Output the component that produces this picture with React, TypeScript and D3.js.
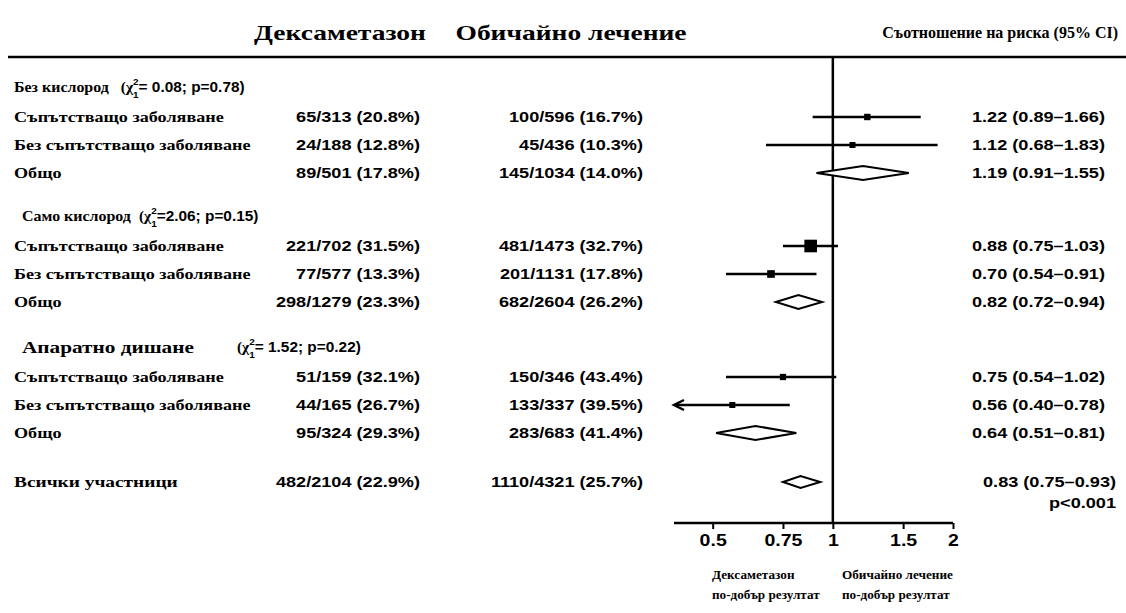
import React, { useEffect, useRef } from "react";
import * as d3 from "d3";

// subgroup rows (3 per section)
const sectionNames = ["Без кислород", "Само кислород", "Апаратно дишане"];
const chiSq = ["0.08", "2.06", "1.52"];
const pHet = ["0.78", "0.15", "0.22"];
const rowLabels = ["Съпътстващо заболяване", "Без съпътстващо заболяване", "Общо"];

const dexEvents = [65, 24, 89, 221, 77, 298, 51, 44, 95];
const dexTotals = [313, 188, 501, 702, 577, 1279, 159, 165, 324];
const dexPct = ["20.8", "12.8", "17.8", "31.5", "13.3", "23.3", "32.1", "26.7", "29.3"];
const usualEvents = [100, 45, 145, 481, 201, 682, 150, 133, 283];
const usualTotals = [596, 436, 1034, 1473, 1131, 2604, 346, 337, 683];
const usualPct = ["16.7", "10.3", "14.0", "32.7", "17.8", "26.2", "43.4", "39.5", "41.4"];
const rr = [1.22, 1.12, 1.19, 0.88, 0.7, 0.82, 0.75, 0.56, 0.64];
const rrLo = [0.89, 0.68, 0.91, 0.75, 0.54, 0.72, 0.54, 0.4, 0.51];
const rrHi = [1.66, 1.83, 1.55, 1.03, 0.91, 0.94, 1.02, 0.78, 0.81];

// all participants
const totalLabel = "Всички участници";
const totalDex = [482, 2104];
const totalDexPct = "22.9";
const totalUsual = [1110, 4321];
const totalUsualPct = "25.7";
const totalRR = [0.83, 0.75, 0.93];
const totalP = "p<0.001";

const tickValues = [0.5, 0.75, 1, 1.5, 2];
const tickLabels = ["0.5", "0.75", "1", "1.5", "2"];

const serif = "'Liberation Serif', 'Times New Roman', serif";
const sans = "'Liberation Sans', Arial, sans-serif";

const fmt2 = d3.format(".2f");

type Sel = d3.Selection<any, unknown, null, undefined>;

// text stretched horizontally like the scanned original
function label(parent: Sel, x: number, y: number, str: string, size: number,
  family = serif, anchor = "start", k = 1.25) {
  return parent.append("g").attr("transform", `translate(${x},${y}) scale(${k},1)`)
    .append("text").attr("dy", "0.35em").attr("text-anchor", anchor)
    .attr("font-family", family).attr("font-weight", "bold").attr("font-size", size)
    .text(str);
}

export default function App() {
  const ref = useRef<SVGSVGElement | null>(null);

  useEffect(() => {
    const svg = d3.select(ref.current);
    svg.selectAll("*").remove();

    const x = d3.scaleLog().domain([0.4, 2]).range([674, 953]);
    const axisY = 523;
    const ruleY = 57;

    // square size ~ inverse variance weight
    const weights = rrLo.map((lo, i) => {
      const se = (Math.log(rrHi[i]) - Math.log(lo)) / 3.92;
      return 1 / (se * se);
    });
    const sq = d3.scaleSqrt().domain([0, d3.max(weights) as number]).range([0, 15]);

    const secTop = [87, 216, 347];
    const rowY = (s: number, r: number) => secTop[s] + 30 + r * 28;

    // column headers
    label(svg, 340, 32, "Дексаметазон", 22, serif, "middle");
    label(svg, 571, 32, "Обичайно лечение", 22, serif, "middle");
    label(svg, 1118, 32, "Съотношение на риска (95% CI)", 16, serif, "end", 1.0);

    svg.append("line").attr("x1", 8).attr("x2", 1126).attr("y1", ruleY).attr("y2", ruleY)
      .attr("stroke", "#000").attr("stroke-width", 2.5);

    // line of no effect
    svg.append("line").attr("x1", x(1)).attr("x2", x(1)).attr("y1", ruleY).attr("y2", axisY)
      .attr("stroke", "#000").attr("stroke-width", 2.5);

    sectionNames.forEach((name, s) => {
      const g = svg.append("g");
      const hx = s === 0 ? 14 : 22;
      const big = s === 2;
      const k = big ? 1.25 : 1.1;
      const ht = label(g, hx, secTop[s], name, big ? 17 : 14.5, serif, "start", k);
      const w = (ht.node() as SVGTextElement).getComputedTextLength() * k;
      const sx = big ? 237 : hx + w + (s === 0 ? 12 : 8);

      // heterogeneity test, χ²₁ with stacked super/subscript
      const st = g.append("g").attr("transform", `translate(${sx},${secTop[s]}) scale(1.1,1)`)
        .append("text").attr("dy", "0.35em").attr("font-weight", "bold").attr("font-size", 14);
      st.append("tspan").attr("font-family", serif).text("(χ");
      st.append("tspan").attr("font-family", sans).attr("font-size", 9).attr("dy", -7).text("2");
      st.append("tspan").attr("font-family", sans).attr("font-size", 9).attr("dy", 13).attr("dx", -5).text("1");
      st.append("tspan").attr("font-family", sans).attr("dy", -6)
        .text((s === 1 ? "=" : "= ") + chiSq[s] + "; p=" + pHet[s] + ")");

      d3.range(3).forEach((r) => {
        const i = s * 3 + r;
        const y = rowY(s, r);
        label(g, 14, y, rowLabels[r], 14.5);
        label(g, 420, y, `${dexEvents[i]}/${dexTotals[i]} (${dexPct[i]}%)`, 14.5, sans, "end");
        label(g, 643, y, `${usualEvents[i]}/${usualTotals[i]} (${usualPct[i]}%)`, 14.5, sans, "end");
        label(g, 972, y, `${fmt2(rr[i])} (${fmt2(rrLo[i])}–${fmt2(rrHi[i])})`, 14.5, sans, "start");

        if (r === 2) {
          // pooled diamond
          const h = 7;
          g.append("path")
            .attr("d", `M${x(rrLo[i])},${y} L${x(rr[i])},${y - h} L${x(rrHi[i])},${y} L${x(rr[i])},${y + h} Z`)
            .attr("fill", "#fff").attr("stroke", "#000").attr("stroke-width", 2);
        } else {
          const x1 = x(rrLo[i]);
          const clipped = rrLo[i] <= x.domain()[0];
          g.append("line").attr("x1", clipped ? x1 + 2 : x1).attr("x2", x(rrHi[i]))
            .attr("y1", y).attr("y2", y).attr("stroke", "#000").attr("stroke-width", 2.5);
          if (clipped) {
            g.append("path")
              .attr("d", `M${x1 + 10},${y - 5} L${x1},${y} L${x1 + 10},${y + 5}`)
              .attr("fill", "none").attr("stroke", "#000").attr("stroke-width", 2.5);
          }
          const sz = Math.max(sq(weights[i]), 6);
          g.append("rect").attr("x", x(rr[i]) - sz / 2).attr("y", y - sz / 2)
            .attr("width", sz).attr("height", sz).attr("fill", "#000");
        }
      });
    });

    // all participants
    const ty = 482;
    const tg = svg.append("g");
    label(tg, 14, ty, totalLabel, 15.5);
    label(tg, 420, ty, `${totalDex[0]}/${totalDex[1]} (${totalDexPct}%)`, 14.5, sans, "end");
    label(tg, 643, ty, `${totalUsual[0]}/${totalUsual[1]} (${totalUsualPct}%)`, 14.5, sans, "end");
    label(tg, 1116, ty, `${fmt2(totalRR[0])} (${fmt2(totalRR[1])}–${fmt2(totalRR[2])})`, 14.5, sans, "end");
    label(tg, 1116, ty + 21, totalP, 14.5, sans, "end");
    tg.append("path")
      .attr("d", `M${x(totalRR[1])},${ty} L${x(totalRR[0])},${ty - 6} L${x(totalRR[2])},${ty} L${x(totalRR[0])},${ty + 6} Z`)
      .attr("fill", "#fff").attr("stroke", "#000").attr("stroke-width", 2);

    // x axis
    const axis = d3.axisBottom(x)
      .tickValues(tickValues)
      .tickFormat((d, i) => tickLabels[i])
      .tickSize(6)
      .tickPadding(5);
    const ag = svg.append("g").attr("transform", `translate(0,${axisY})`).call(axis);
    ag.select(".domain").attr("d", `M${x.range()[0]},0H${x.range()[1]}`)
      .attr("stroke-width", 2.5);
    ag.selectAll(".tick line").attr("stroke-width", 2);
    ag.selectAll(".tick text").attr("font-family", sans).attr("font-weight", "bold")
      .attr("font-size", 17).attr("transform", "scale(1.15,1)");

    // direction labels
    const dl = svg.append("g");
    label(dl, 712, 575, "Дексаметазон", 12, serif, "start", 1.1);
    label(dl, 712, 595, "по-добър резултат", 12, serif, "start", 1.1);
    label(dl, 842, 575, "Обичайно лечение", 12, serif, "start", 1.1);
    label(dl, 842, 595, "по-добър резултат", 12, serif, "start", 1.1);
  }, []);

  return (
    <svg ref={ref} width={1126} height={613}
      style={{ display: "block", position: "absolute", left: 0, top: 0, background: "#fff" }} />
  );
}
